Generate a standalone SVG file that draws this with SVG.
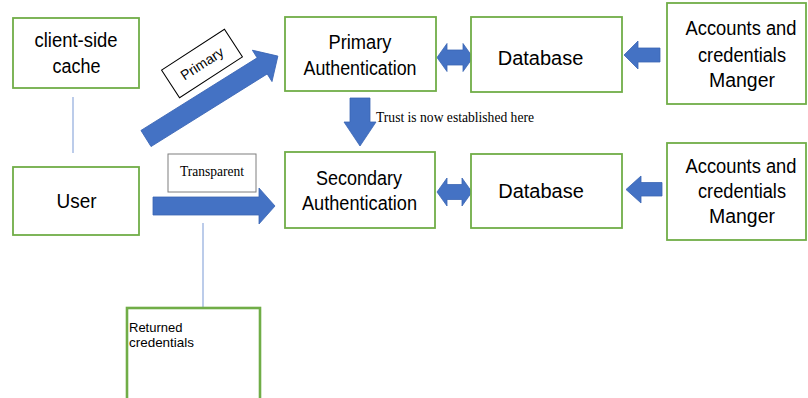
<svg xmlns="http://www.w3.org/2000/svg" width="808" height="398" viewBox="0 0 808 398">
<style>
.box{fill:#fff;stroke:#70AD47;stroke-width:1.8}
.t{font-family:"Liberation Sans",Arial,sans-serif;font-size:20px;fill:#000;text-anchor:middle}
.arr{fill:#4472C4;stroke:#3B66B4;stroke-width:0.8}
.ln{stroke:#8FAADC;stroke-width:1.2;fill:none}
.serif{font-family:"Liberation Serif","Times New Roman",serif;fill:#000}
</style>
<rect width="808" height="398" fill="#fff"/>
<g id="connectors">
<line class="ln" x1="73" y1="97" x2="73" y2="153"/>
<line class="ln" x1="203" y1="223" x2="203" y2="307"/>
<polygon class="arr" transform="translate(146,138.5) rotate(-32)" points="0,-9.5 137,-9.5 137,-18.5 155.5,0 137,18.5 137,9.5 0,9.5"/>
<polygon class="arr" points="153,197 259,197 259,188 275,206 259,224 259,215 153,215"/>
<polygon class="arr" points="437,57.5 447,43.5 447,50 463,50 463,43.5 473,57.5 463,71.5 463,65 447,65 447,71.5"/>
<polygon class="arr" points="437,192 447,178 447,184.5 462,184.5 462,178 472,192 462,206 462,199.5 447,199.5 447,206"/>
<polygon class="arr" points="624,55 638,41 638,48 660,48 660,62 638,62 638,69"/>
<polygon class="arr" points="626,189.5 641,176 641,182.5 662,182.5 662,196 641,196 641,203"/>
<polygon class="arr" points="350,98 370,98 370,122 376,122 360,146 344,122 350,122"/>
</g>
<g id="label-primary" transform="translate(202,63.5) rotate(-33)">
<rect x="-37.5" y="-16.5" width="75" height="33" fill="#fff" stroke="#000" stroke-width="1"/>
<text x="0" y="5" font-family="Liberation Sans,Arial,sans-serif" font-size="14" text-anchor="middle">Primary</text>
</g>
<g id="label-transparent">
<rect x="168" y="154" width="88" height="38" fill="#fff" stroke="#7F7F7F" stroke-width="1"/>
<text class="serif" x="180" y="176" font-size="15" textLength="64" lengthAdjust="spacingAndGlyphs">Transparent</text>
</g>
<g id="label-trust">
<text class="serif" x="376" y="122" font-size="15" textLength="158" lengthAdjust="spacingAndGlyphs">Trust is now established here</text>
</g>
<g id="client-cache">
<rect class="box" x="13" y="18" width="126" height="70"/>
<text class="t" x="76" y="47" textLength="83" lengthAdjust="spacingAndGlyphs">client-side</text>
<text class="t" x="76.5" y="73" textLength="48" lengthAdjust="spacingAndGlyphs">cache</text>
</g>
<g id="user">
<rect class="box" x="13" y="167" width="126" height="68"/>
<text class="t" x="76.5" y="208" textLength="40" lengthAdjust="spacingAndGlyphs">User</text>
</g>
<g id="returned-credentials">
<rect x="127" y="308" width="133" height="100" fill="#fff" stroke="#70AD47" stroke-width="2.6"/>
<text x="129" y="332" font-family="Liberation Sans,Arial,sans-serif" font-size="13">Returned</text>
<text x="129" y="347" font-family="Liberation Sans,Arial,sans-serif" font-size="13" textLength="65" lengthAdjust="spacingAndGlyphs">credentials</text>
</g>
<g id="primary-auth">
<rect class="box" x="285" y="17" width="151" height="74"/>
<text class="t" x="360" y="49" textLength="63" lengthAdjust="spacingAndGlyphs">Primary</text>
<text class="t" x="360" y="75" textLength="113" lengthAdjust="spacingAndGlyphs">Authentication</text>
</g>
<g id="database-1">
<rect class="box" x="471" y="17" width="151" height="75"/>
<text class="t" x="540.5" y="65">Database</text>
</g>
<g id="accounts-1">
<rect class="box" x="667" y="3" width="139" height="101"/>
<text class="t" x="741" y="35" textLength="111" lengthAdjust="spacingAndGlyphs">Accounts and</text>
<text class="t" x="742" y="62" textLength="88" lengthAdjust="spacingAndGlyphs">credentials</text>
<text class="t" x="742" y="87" textLength="66" lengthAdjust="spacingAndGlyphs">Manger</text>
</g>
<g id="secondary-auth">
<rect class="box" x="285" y="152" width="150" height="76"/>
<text class="t" x="359" y="185" textLength="86" lengthAdjust="spacingAndGlyphs">Secondary</text>
<text class="t" x="359.5" y="210" textLength="115" lengthAdjust="spacingAndGlyphs">Authentication</text>
</g>
<g id="database-2">
<rect class="box" x="471" y="154" width="151" height="74"/>
<text class="t" x="541" y="198">Database</text>
</g>
<g id="accounts-2">
<rect class="box" x="667" y="143" width="139" height="97"/>
<text class="t" x="741" y="173" textLength="111" lengthAdjust="spacingAndGlyphs">Accounts and</text>
<text class="t" x="742" y="198" textLength="88" lengthAdjust="spacingAndGlyphs">credentials</text>
<text class="t" x="742" y="223" textLength="66" lengthAdjust="spacingAndGlyphs">Manger</text>
</g>
</svg>
